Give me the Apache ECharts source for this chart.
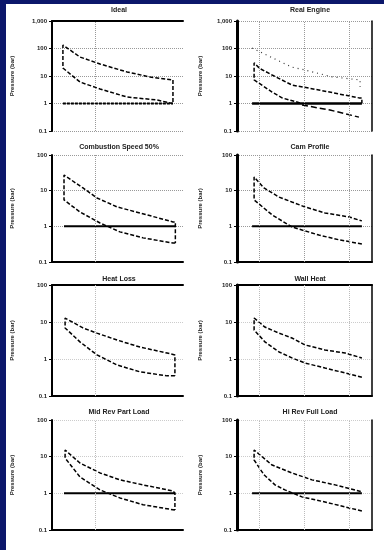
<!DOCTYPE html>
<html><head><meta charset="utf-8">
<script src="https://cdn.jsdelivr.net/npm/echarts@6/dist/echarts.min.js"></script>
<style>
html,body{margin:0;padding:0;background:#fff;}
#chart{position:absolute;left:0;top:0;width:384px;height:550px;}
.nv{position:absolute;background:#0c176b;}
</style></head>
<body>
<div id="chart"></div>
<div class="nv" style="left:0;top:0;width:6px;height:550px"></div>
<div class="nv" style="left:0;top:0;width:384px;height:4px"></div>
<script>
// Panel titles
const titles = ["Ideal","Real Engine","Combustion Speed 50%","Cam Profile","Heat Loss","Wall Heat","Mid Rev Part Load","Hi Rev Full Load"];
const yName = "Pressure (bar)";
const yMax = [1000,1000,100,100,100,100,100,100];
// vertical grid positions (volume)
const vGridLeft = [200];
const vGridRight = [100,300,500];

// Panel 1 Ideal
const p1V = [554,481,344,220,128,50,50,128,220,344,449,554,554];
const p1P = [1.0,1.34,1.72,3.37,6.05,19.5,134,49,27.3,14,9.2,7.2,1.0];
const p1AtmV = [50,554];
// Panel 2 Real Engine
const p2RefV = [67,178,244,302,422,547,547];
const p2RefP = [104,38,21,16.6,9.3,7.2,4.0];
const p2V = [280,200,156,76,76,100,156,244,364,542,555,555];
const p2P = [1.05,1.6,2.6,7.2,30,19,10.9,4.7,3.1,1.6,1.6,1.0];
const p2LowV = [289,413,542];
const p2LowP = [0.88,0.58,0.32];
const p2AtmV = [67,555];
// Panel 3
const p3V = [565,554,417,311,220,128,55,55,142,206,298,403,554,565,565];
const p3P = [0.34,0.34,0.475,0.70,1.24,2.53,5.5,27.5,11.9,6.25,3.5,2.37,1.33,1.33,0.34];
const p3AtmV = [55,565];
// Panel 4
const p4V = [555,453,364,244,156,76,76,120,187,244,302,391,498,555];
const p4P = [0.32,0.42,0.57,0.96,2.1,5.5,24.2,11.9,6.6,4.8,3.5,2.37,1.83,1.42];
const p4AtmV = [67,555];
// Panel 5
const p5V = [563,527,403,298,206,128,60,60,142,206,298,403,527,563,563];
const p5P = [0.35,0.35,0.45,0.69,1.29,2.9,6.9,12.8,6.9,5.0,3.25,2.1,1.45,1.29,0.35];
// Panel 6
const p6V = [555,480,391,302,244,187,124,76,76,124,187,244,302,391,480,555];
const p6P = [0.32,0.42,0.57,0.78,1.07,1.55,2.9,6.1,12.8,7.3,5.0,3.7,2.4,1.75,1.45,1.07];
// Panel 7
const p7V = [563,554,417,311,220,128,60,60,128,220,311,417,554,563,563];
const p7P = [0.35,0.35,0.49,0.75,1.24,2.8,9.2,15.2,6.7,3.6,2.33,1.70,1.16,1.0,0.35];
const p7AtmV = [55,565];
// Panel 8
const p8V = [555,391,289,213,169,120,76,76,156,244,333,436,555];
const p8P = [0.33,0.58,0.8,1.24,1.7,3.2,8.1,15.2,5.9,3.6,2.33,1.70,1.1];
const p8AtmV = [67,555];

const zip = (v,p) => v.map((x,i)=>[x,p[i]]);
const atm = v => v.map(x=>[x,1]);

const grids = [
  {left:52,top:21,width:131,height:110},
  {left:237,top:21,width:135,height:110},
  {left:52,top:155,width:131,height:107},
  {left:237,top:155,width:135,height:107},
  {left:52,top:285,width:131,height:111},
  {left:237,top:285,width:135,height:111},
  {left:52,top:420,width:131,height:110},
  {left:237,top:420,width:135,height:110}
];
const hasTop = [true,false,false,false,true,true,false,false];
const hasBottom = [false,false,true,true,true,true,true,true];
const hasRight = [false,true,false,true,false,true,false,true];
const titleTop = [2,2,139,139,271,271,404,404];
const gridColor = ['#999','#999','#999','#999','#ccc','#ccc','#ccc','#ccc'];

const xAxes=[], yAxes=[], series=[], titleArr=[];
const FONT = "Liberation Sans";
grids.forEach((g,i)=>{
  const right = i%2===1;
  titleArr.push({text:titles[i], left: right?305:114, top:titleTop[i], textAlign:'center',
    textStyle:{fontSize:7,fontWeight:'bold',color:'#222',fontFamily:FONT}});
  xAxes.push({gridIndex:i,type:'value',min:0,max:600,position:'bottom',
    axisLine:{show:hasBottom[i],onZero:false,lineStyle:{color:'#000',width:2}},
    axisTick:{show:false},axisLabel:{show:false},splitLine:{show:false}});
  xAxes.push({gridIndex:i,type:'value',min:0,max:600,position:'top',
    axisLine:{show:hasTop[i],onZero:false,lineStyle:{color:'#000',width:2}},
    axisTick:{show:false},axisLabel:{show:false},splitLine:{show:false}});
  yAxes.push({gridIndex:i,type:'log',logBase:10,min:0.1,max:yMax[i],
    name:yName,nameLocation:'middle',nameGap:right?34:37,
    nameTextStyle:{fontSize:6,fontWeight:'bold',color:'#222',fontFamily:FONT},
    axisLine:{show:true,onZero:false,lineStyle:{color:'#000',width:right?3:2}},
    axisTick:{show:true,length:3,lineStyle:{color:'#000'}},
    axisLabel:{fontSize:6,color:'#222',margin:5,fontFamily:FONT,fontWeight:'bold'},
    splitLine:{show:true,lineStyle:{type:'dotted',color:gridColor[i],width:1}}});
  yAxes.push({gridIndex:i,type:'value',min:0,max:1,position:'right',
    axisLine:{show:hasRight[i],onZero:false,lineStyle:{color:'#000',width:1.5}},
    axisTick:{show:false},axisLabel:{show:false},splitLine:{show:false}});
});

const dash = {color:'#000',width:1.5,type:[4,2]};
function addLine(i,data,style){
  series.push({type:'line',xAxisIndex:2*i,yAxisIndex:2*i,data:data,showSymbol:false,
    symbol:'none',lineStyle:style,silent:true,animation:false});
}
function addVGrid(i){
  const vals = (i%2===1)?vGridRight:vGridLeft;
  series.push({type:'line',xAxisIndex:2*i,yAxisIndex:2*i,data:[],
    markLine:{silent:true,symbol:'none',label:{show:false},
      lineStyle:{type:'dotted',color:i<4?'#999':'#bbb',width:1},
      data:vals.map(v=>({xAxis:v}))},animation:false});
}
for(let i=0;i<8;i++) addVGrid(i);
const atmStyle = {color:'#000',width:2,type:'solid'};
// panel 1
addLine(0,atm(p1AtmV),{color:'#000',width:2,type:[3,1]});
addLine(0,zip(p1V,p1P),dash);
// panel 2
addLine(1,atm(p2AtmV),{color:'#000',width:2.5,type:'solid'});
addLine(1,zip(p2RefV,p2RefP),{color:'#333',width:1.2,type:[1,4]});
addLine(1,zip(p2V,p2P),dash);
addLine(1,zip(p2LowV,p2LowP),{color:'#000',width:1.5,type:[6,3]});
// panel 3
addLine(2,atm(p3AtmV),atmStyle);
addLine(2,zip(p3V,p3P),dash);
// panel 4
addLine(3,atm(p4AtmV),atmStyle);
addLine(3,zip(p4V,p4P),dash);
// panel 5
addLine(4,zip(p5V,p5P),dash);
// panel 6
addLine(5,zip(p6V,p6P),dash);
// panel 7
addLine(6,atm(p7AtmV),atmStyle);
addLine(6,zip(p7V,p7P),dash);
// panel 8
addLine(7,atm(p8AtmV),{color:'#000',width:2,type:'solid'});
addLine(7,zip(p8V,p8P),dash);

const chart = echarts.init(document.getElementById('chart'),null,{renderer:'canvas'});
chart.setOption({
  backgroundColor:'#fff',
  animation:false,
  textStyle:{fontFamily:FONT},
  title:titleArr,
  grid:grids,
  xAxis:xAxes,
  yAxis:yAxes,
  series:series
});
</script>
</body></html>
